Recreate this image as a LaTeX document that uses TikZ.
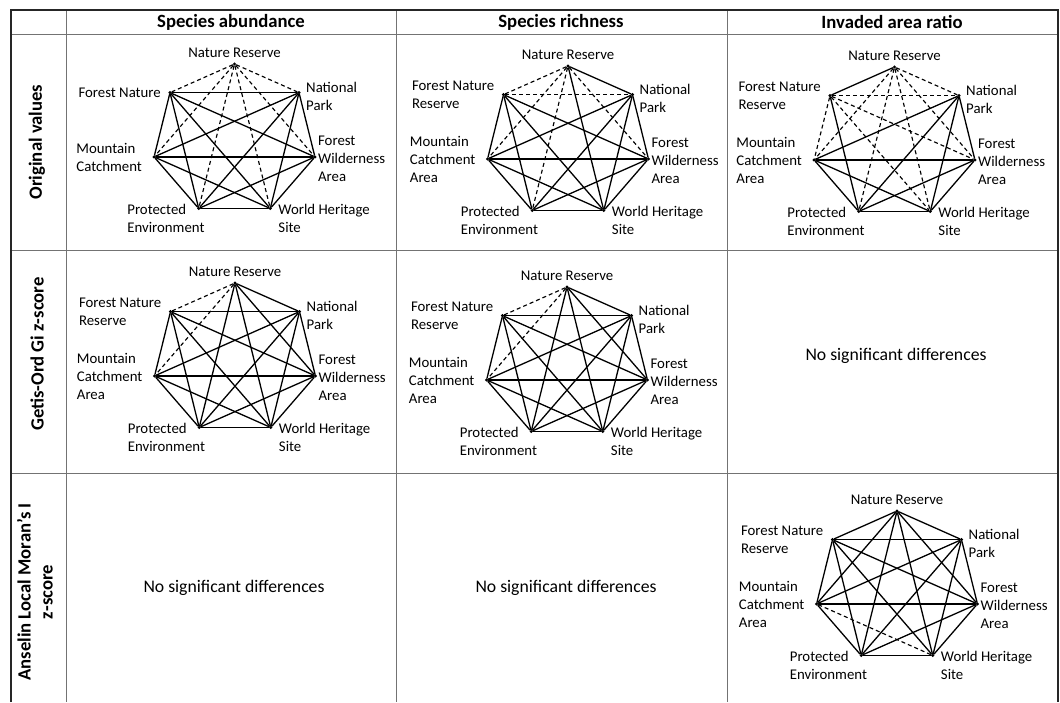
\documentclass[tikz,border=0pt]{standalone}
\usepackage{fontspec}
\setmainfont{Carlito}
\tikzset{every picture/.style = {x=1pt, y=-1pt}}
\tikzset{edge/.style = {line width=1.3pt, line cap=round}}
\tikzset{weak/.style = {line width=1.15pt, dash pattern=on 4pt off 3pt}}
\tikzset{post/.style = {fill, shape=circle, inner sep=1.2pt}}
\tikzset{site/.style = {inner sep=0pt, align=left, font=\fontsize{14.8}{18}\selectfont}}
\tikzset{head/.style = {inner sep=0pt, align=center, font=\fontsize{18.7}{22}\selectfont\bfseries}}
\tikzset{note/.style = {inner sep=0pt, font=\fontsize{17.7}{20}\selectfont}}
\tikzset{rule/.style = {black!55, line width=1pt}}
\tikzset{frame/.style = {black!85, line width=1.8pt}}

% one heptagon of site types: prefix, centre x, top y, two left labels
\newcommand\sites[5]{%
  \foreach \n/\a in {nr/90, np/38.57, fw/-12.86, wh/-64.29, pe/-115.71, mc/-167.14, fn/141.43}
    \node[post] (#1-\n) at ({#2+82.5*cos(\a)}, {#3+76-76*sin(\a)}) {};
  \node[site, anchor=base] (#1-nr-t) at ([yshift=7pt]#1-nr) {Nature Reserve};
  \node[site, anchor=west] (#1-np-t) at ([xshift=7pt, yshift=-4pt]#1-np) {National\\Park};
  \node[site, anchor=west] (#1-fw-t) at ([xshift=3pt, yshift=-2pt]#1-fw) {Forest\\Wilderness\\Area};
  \node[site, anchor=west] (#1-wh-t) at ([xshift=8pt, yshift=-10pt]#1-wh) {World Heritage\\Site};
  \node[site, anchor=east] (#1-pe-t) at ([xshift=6pt, yshift=-10pt]#1-pe) {Protected\\Environment};
  \node[site, anchor=east] (#1-mc-t) at ([xshift=-12pt, yshift=-1pt]#1-mc) {#5};
  \node[site, anchor=east] (#1-fn-t) at ([xshift=-9pt]#1-fn) {#4};
}
% solid pairs, then dashed pairs
\newcommand\links[3]{%
  \foreach \a/\b in {#2} \draw[edge] (#1-\a) -- (#1-\b);
  \foreach \a/\b in {#3} \draw[weak] (#1-\a) -- (#1-\b);
}

\begin{document}
\begin{tikzpicture}
  \useasboundingbox (0,0) rectangle (1060,702);

  % table
  \foreach \x in {66, 396, 727}
    \draw[rule] (\x,10) -- (\x,702);
  \foreach \y in {34, 250, 473}
    \draw[rule] (11,\y) -- (1058,\y);
  \draw[frame] (11,702) -- (11,10) -- (1058,10) -- (1058,702);

  \node[head] (h-abund) at (231, 22) {Species abundance};
  \node[head] (h-rich) at (561, 22) {Species richness};
  \node[head] (h-inv) at (892, 22) {Invaded area ratio};
  \node[head, rotate=90] (r-orig) at (37, 142) {Original values};
  \node[head, rotate=90] (r-gi) at (37, 354) {Getis-Ord Gi z-score};
  \node[head, rotate=90] (r-moran) at (35, 592) {Anselin Local Moran’s I\\z-score};

  \node[note] (n-gi-inv) at (896, 356) {No significant differences};
  \node[note] (n-mo-abund) at (234, 588) {No significant differences};
  \node[note] (n-mo-rich) at (566, 588) {No significant differences};

  % original values
  \sites{oa}{234.5}{64}{Forest Nature}{Mountain\\Catchment}
  \links{oa}{np/fw, np/wh, np/pe, np/mc, np/fn, fw/wh, fw/pe, fw/mc, fw/fn,
    wh/pe, wh/mc, wh/fn, pe/mc, pe/fn, mc/fn}
    {nr/np, nr/fw, nr/wh, nr/pe, nr/mc, nr/fn}

  \sites{or}{568}{66}{Forest Nature\\Reserve}{Mountain\\Catchment\\Area}
  \links{or}{nr/np, nr/wh, np/fw, np/wh, np/pe, np/mc, fw/wh, fw/pe, fw/mc, fw/fn,
    wh/pe, wh/mc, wh/fn, pe/mc, pe/fn, mc/fn}
    {nr/fn, nr/mc, nr/pe, nr/fw, fn/np}

  \sites{oi}{894.5}{67}{Forest Nature\\Reserve}{Mountain\\Catchment\\Area}
  \links{oi}{nr/fn, np/mc, np/pe, np/wh, np/fw, mc/fw, mc/wh, mc/pe, pe/wh, pe/fw,
    fn/pe, fw/wh}
    {nr/np, nr/mc, nr/pe, nr/wh, nr/fw, fn/np, fn/mc, fn/fw, fn/wh}

  % Getis-Ord Gi
  \sites{ga}{235}{283}{Forest Nature\\Reserve}{Mountain\\Catchment\\Area}
  \links{ga}{nr/np, nr/fw, nr/wh, nr/pe, np/fw, np/wh, np/pe, np/mc, np/fn, fw/wh,
    fw/pe, fw/mc, fw/fn, wh/pe, wh/mc, wh/fn, pe/mc, pe/fn, mc/fn}
    {nr/fn, nr/mc}

  \sites{gr}{567}{287}{Forest Nature\\Reserve}{Mountain\\Catchment\\Area}
  \links{gr}{nr/np, nr/fw, nr/wh, nr/pe, np/fw, np/wh, np/pe, np/mc, np/fn, fw/wh,
    fw/pe, fw/mc, fw/fn, wh/pe, wh/mc, wh/fn, pe/mc, pe/fn, mc/fn}
    {nr/fn, nr/mc}

  % Anselin Local Moran's I
  \sites{mi}{897}{511}{Forest Nature\\Reserve}{Mountain\\Catchment\\Area}
  \links{mi}{nr/np, nr/fw, nr/wh, nr/pe, nr/mc, nr/fn, np/fw, np/wh, np/pe, np/mc,
    np/fn, fw/wh, fw/pe, fw/mc, fw/fn, wh/pe, wh/fn, pe/mc, pe/fn, mc/fn}
    {mc/wh}
\end{tikzpicture}
\end{document}
